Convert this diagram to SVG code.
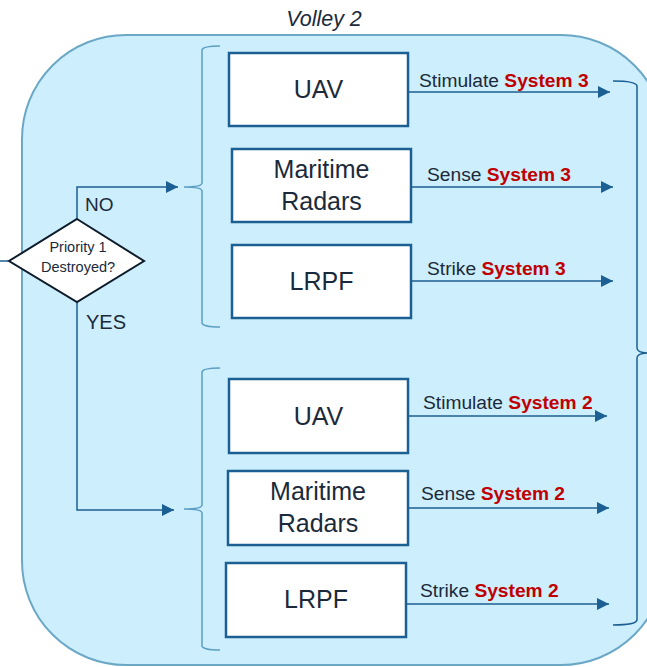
<svg xmlns="http://www.w3.org/2000/svg" width="647" height="667" viewBox="0 0 647 667">
<defs>
<marker id="ah" markerUnits="userSpaceOnUse" markerWidth="13" markerHeight="12" refX="12" refY="6" orient="auto">
<path d="M0,0 L12,6 L0,12 Z" fill="#1c5f92"/>
</marker>
<style>
.box{fill:#fff;stroke:#1c5f92;stroke-width:2.5}
.bt{font-family:"Liberation Sans",Arial,sans-serif;font-size:25px;fill:#1b2a3b;text-anchor:middle}
.lbl{font-family:"Liberation Sans",Arial,sans-serif;font-size:19.2px;fill:#1b2a3b}
.red{fill:#c00000;font-weight:bold}
.con{fill:none;stroke:#1c5f92;stroke-width:1.5}
.brace{fill:none;stroke:#5c9fc2;stroke-width:1.5}
</style>
</defs>
<rect x="22" y="35" width="643" height="630" rx="104" ry="104" fill="#cdeefc" stroke="#6aa8c6" stroke-width="2"/>
<text x="324" y="26" font-family="'Liberation Sans',Arial,sans-serif" font-size="21.5" font-style="italic" fill="#1b2a3b" text-anchor="middle">Volley 2</text>

<g id="braces">
<path class="brace" d="M220,46 Q203,46 202,50 L202,183 Q202,187 184,187 Q202,187 202,191 L202,323 Q203,327 220,327"/>
<path class="brace" d="M220,368 Q203,368 202,372 L202,505 Q202,509 184,509 Q202,509 202,513 L202,646 Q203,650 220,650"/>
<path class="con" d="M613,81 Q636,81 637,86 L637,348 Q637,353 649,353 Q637,353 637,358 L637,620 Q636,625 613,625"/>
</g>

<g id="connectors">
<path class="con" d="M0,261 L8,261"/>
<path class="con" d="M77,219 L77,187 L178,187" marker-end="url(#ah)"/>
<path class="con" d="M77,302 L77,510 L174,510" marker-end="url(#ah)"/>
<path class="con" d="M408,92 L610,92" marker-end="url(#ah)"/>
<path class="con" d="M411,187 L613,187" marker-end="url(#ah)"/>
<path class="con" d="M411,281 L613,281" marker-end="url(#ah)"/>
<path class="con" d="M404,416 L607,416" marker-end="url(#ah)"/>
<path class="con" d="M408,508 L609,508" marker-end="url(#ah)"/>
<path class="con" d="M406,604 L609,604" marker-end="url(#ah)"/>
<text class="lbl" x="419" y="87">Stimulate <tspan class="red">System 3</tspan></text>
<text class="lbl" x="427" y="181">Sense <tspan class="red">System 3</tspan></text>
<text class="lbl" x="427" y="275">Strike <tspan class="red">System 3</tspan></text>
<text class="lbl" x="423" y="409">Stimulate <tspan class="red">System 2</tspan></text>
<text class="lbl" x="421" y="500">Sense <tspan class="red">System 2</tspan></text>
<text class="lbl" x="420" y="597">Strike <tspan class="red">System 2</tspan></text>
<text x="85" y="211" font-family="'Liberation Sans',Arial,sans-serif" font-size="19" fill="#1b2a3b">NO</text>
<text x="86" y="329" font-family="'Liberation Sans',Arial,sans-serif" font-size="20" fill="#1b2a3b">YES</text>
</g>

<g id="decision">
<path d="M77,219 L144,261 L77,302 L9,261 Z" fill="#fff" stroke="#0d1b2a" stroke-width="2"/>
<text x="78" y="252" font-family="'Liberation Sans',Arial,sans-serif" font-size="14.5" fill="#1b2a3b" text-anchor="middle">Priority 1</text>
<text x="78" y="272" font-family="'Liberation Sans',Arial,sans-serif" font-size="14.5" fill="#1b2a3b" text-anchor="middle">Destroyed?</text>
</g>

<g id="uav3"><rect class="box" x="229" y="53" width="179" height="73"/><text class="bt" x="318.5" y="98">UAV</text></g>
<g id="radar3"><rect class="box" x="232" y="149" width="179" height="73"/><text class="bt" x="321.5" y="178">Maritime</text><text class="bt" x="321.5" y="210">Radars</text></g>
<g id="lrpf3"><rect class="box" x="232" y="245" width="179" height="73"/><text class="bt" x="321.5" y="290">LRPF</text></g>
<g id="uav2"><rect class="box" x="229" y="379" width="179" height="74"/><text class="bt" x="318.5" y="425">UAV</text></g>
<g id="radar2"><rect class="box" x="228" y="471" width="180" height="74"/><text class="bt" x="318" y="500">Maritime</text><text class="bt" x="318" y="532">Radars</text></g>
<g id="lrpf2"><rect class="box" x="226" y="563" width="180" height="74"/><text class="bt" x="316" y="608">LRPF</text></g>
</svg>
